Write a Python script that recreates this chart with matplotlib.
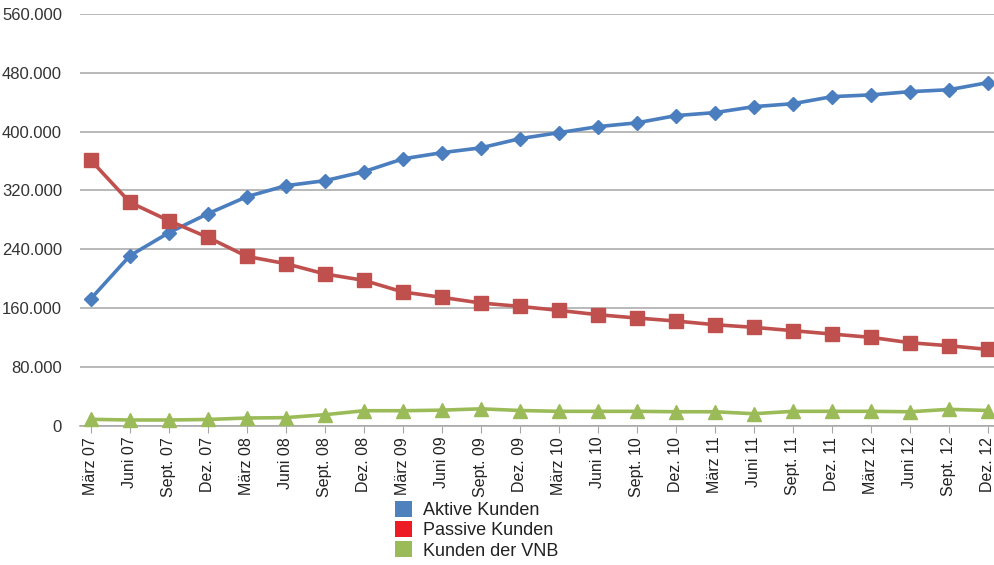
import matplotlib.pyplot as plt
from matplotlib.patches import Patch
from matplotlib.ticker import FuncFormatter

plt.rcParams["font.family"] = ["Liberation Sans", "DejaVu Sans"]

quarters = [
    "März 07", "Juni 07", "Sept. 07", "Dez. 07",
    "März 08", "Juni 08", "Sept. 08", "Dez. 08",
    "März 09", "Juni 09", "Sept. 09", "Dez. 09",
    "März 10", "Juni 10", "Sept. 10", "Dez. 10",
    "März 11", "Juni 11", "Sept. 11", "Dez. 11",
    "März 12", "Juni 12", "Sept. 12", "Dez. 12",
]

aktive = [
    172800, 231300, 262600, 288400, 311600, 326500, 333300, 345600,
    363000, 371400, 378000, 390500, 398600, 406800, 412000, 421800,
    425900, 434000, 438000, 447600, 450000, 454400, 457000, 466700,
]
passive = [
    361000, 303800, 278900, 256200, 230300, 220400, 206400, 197700,
    181900, 174600, 166900, 162300, 156900, 151000, 146500, 142400,
    137400, 133800, 129300, 124700, 120200, 112900, 108800, 103800,
]
vnb = [
    8700, 7800, 7800, 8500, 10500, 11000, 15000, 20400,
    20400, 21200, 23000, 20700, 19600, 19600, 19600, 19000,
    19000, 16300, 19600, 19600, 19600, 19000, 22300, 20700,
]

series_labels = ["Aktive Kunden", "Passive Kunden", "Kunden der VNB"]

fig = plt.figure(figsize=(9.95, 5.65), dpi=100)
ax = fig.add_axes([0.0804, 0.2465, 0.9196, 0.7287])

x = list(range(len(quarters)))
ax.plot(x, aktive, color="#4a7ebf", lw=2.6, marker="D", ms=7.5, zorder=3)
ax.plot(x, passive, color="#c0504d", lw=2.6, marker="s", ms=10, zorder=3)
ax.plot(x, vnb, color="#9bbb59", lw=2.6, marker="^", ms=9.5, zorder=3,
        clip_on=False)

ax.set_xlim(-0.28, 23.18)
ax.set_ylim(0, 560000)
ax.set_yticks(range(0, 560001, 80000))
ax.yaxis.set_major_formatter(
    FuncFormatter(lambda v, _: "0" if v == 0 else f"{int(v):,}".replace(",", "."))
)
ax.set_xticks(x)
ax.set_xticklabels(quarters, rotation=90)

ax.grid(axis="y", color="#a6a6a6", lw=1.1)
ax.set_axisbelow(True)
for side in ("top", "right", "left"):
    ax.spines[side].set_visible(False)
ax.spines["bottom"].set_color("#a6a6a6")
ax.spines["bottom"].set_linewidth(1.1)
ax.tick_params(axis="y", length=0, pad=13, labelsize=12, labelcolor="#333333")
ax.tick_params(axis="x", length=5, color="#a6a6a6", pad=3, labelsize=11.5,
               labelcolor="#222222")

handles = [
    Patch(facecolor="#4f81bd"),
    Patch(facecolor="#ed1c24"),
    Patch(facecolor="#9bbb59"),
]
fig.legend(handles, series_labels, loc="upper left",
           bbox_to_anchor=(0.397, 0.113), frameon=False, fontsize=13,
           handlelength=0.95, handleheight=1.0, handletextpad=0.6,
           labelspacing=0.1, borderaxespad=0, borderpad=0,
           labelcolor="#222222")

fig.savefig("out.png", dpi=100)
